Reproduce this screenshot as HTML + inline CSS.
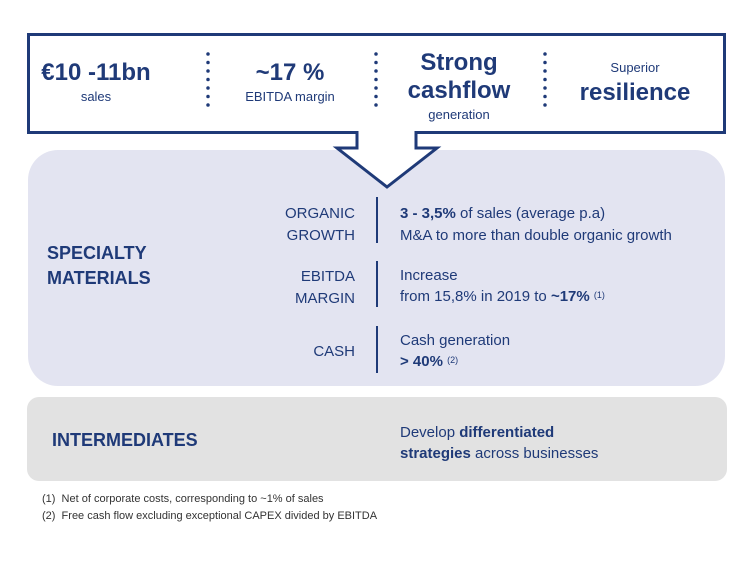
<!DOCTYPE html>
<html><head><meta charset="utf-8"><style>
html,body{margin:0;padding:0;background:#fff;}
svg{display:block;font-family:"Liberation Sans",sans-serif;}
</style></head><body>
<svg width="750" height="563" viewBox="0 0 750 563">
<g fill="#1f3a78">
<rect x="28" y="150" width="697" height="236" rx="30" fill="#e3e4f1"/>
<rect x="27" y="397" width="700" height="84" rx="12" fill="#e2e2e2"/>
<rect x="28.5" y="34.5" width="696" height="98" fill="#fff" stroke="#1f3a78" stroke-width="3"/>
<path d="M357,131 V148 H337 L387,187 L437,148 H416 V131" fill="#fff" stroke="#1f3a78" stroke-width="3"/>
<rect x="358.5" y="130" width="56" height="4" fill="#fff"/>
<g>
<line x1="208" y1="54" x2="208" y2="106" stroke="#1f3a78" stroke-width="3.5" stroke-linecap="round" stroke-dasharray="0 8.5"/>
<line x1="376" y1="54" x2="376" y2="106" stroke="#1f3a78" stroke-width="3.5" stroke-linecap="round" stroke-dasharray="0 8.5"/>
<line x1="545" y1="54" x2="545" y2="106" stroke="#1f3a78" stroke-width="3.5" stroke-linecap="round" stroke-dasharray="0 8.5"/>
</g>
<g text-anchor="middle">
<text x="96" y="80" font-size="24" font-weight="bold">€10 -11bn</text>
<text x="96" y="101" font-size="13">sales</text>
<text x="290" y="80" font-size="24" font-weight="bold">~17 %</text>
<text x="290" y="101" font-size="13">EBITDA margin</text>
<text x="459" y="70" font-size="24" font-weight="bold">Strong</text>
<text x="459" y="98" font-size="24" font-weight="bold">cashflow</text>
<text x="459" y="119" font-size="13">generation</text>
<text x="635" y="72" font-size="13">Superior</text>
<text x="635" y="100" font-size="24" font-weight="bold">resilience</text>
</g>
<text x="47" y="259" font-size="18" font-weight="bold">SPECIALTY</text>
<text x="47" y="284" font-size="18" font-weight="bold">MATERIALS</text>
<g text-anchor="end" font-size="15">
<text x="355" y="218">ORGANIC</text>
<text x="355" y="240">GROWTH</text>
<text x="355" y="281">EBITDA</text>
<text x="355" y="303">MARGIN</text>
<text x="355" y="356">CASH</text>
</g>
<rect x="376" y="197" width="2" height="46"/>
<rect x="376" y="261" width="2" height="46"/>
<rect x="376" y="326" width="2" height="47"/>
<g font-size="15">
<text x="400" y="218"><tspan font-weight="bold">3 - 3,5%</tspan> of sales (average p.a)</text>
<text x="400" y="240">M&amp;A to more than double organic growth</text>
<text x="400" y="280">Increase</text>
<text x="400" y="301">from 15,8% in 2019 to <tspan font-weight="bold">~17%</tspan> <tspan font-size="9" dy="-3">(1)</tspan></text>
<text x="400" y="345">Cash generation</text>
<text x="400" y="366"><tspan font-weight="bold">&gt; 40%</tspan> <tspan font-size="9" dy="-3">(2)</tspan></text>
<text x="400" y="437">Develop <tspan font-weight="bold">differentiated</tspan></text>
<text x="400" y="458"><tspan font-weight="bold">strategies</tspan> across businesses</text>
</g>
<text x="52" y="446" font-size="18" font-weight="bold">INTERMEDIATES</text>
<g font-size="11" fill="#333">
<text x="42" y="502">(1)&#160;&#160;Net of corporate costs, corresponding to ~1% of sales</text>
<text x="42" y="519">(2)&#160;&#160;Free cash flow excluding exceptional CAPEX divided by EBITDA</text>
</g>
</g>
</svg>
</body></html>
